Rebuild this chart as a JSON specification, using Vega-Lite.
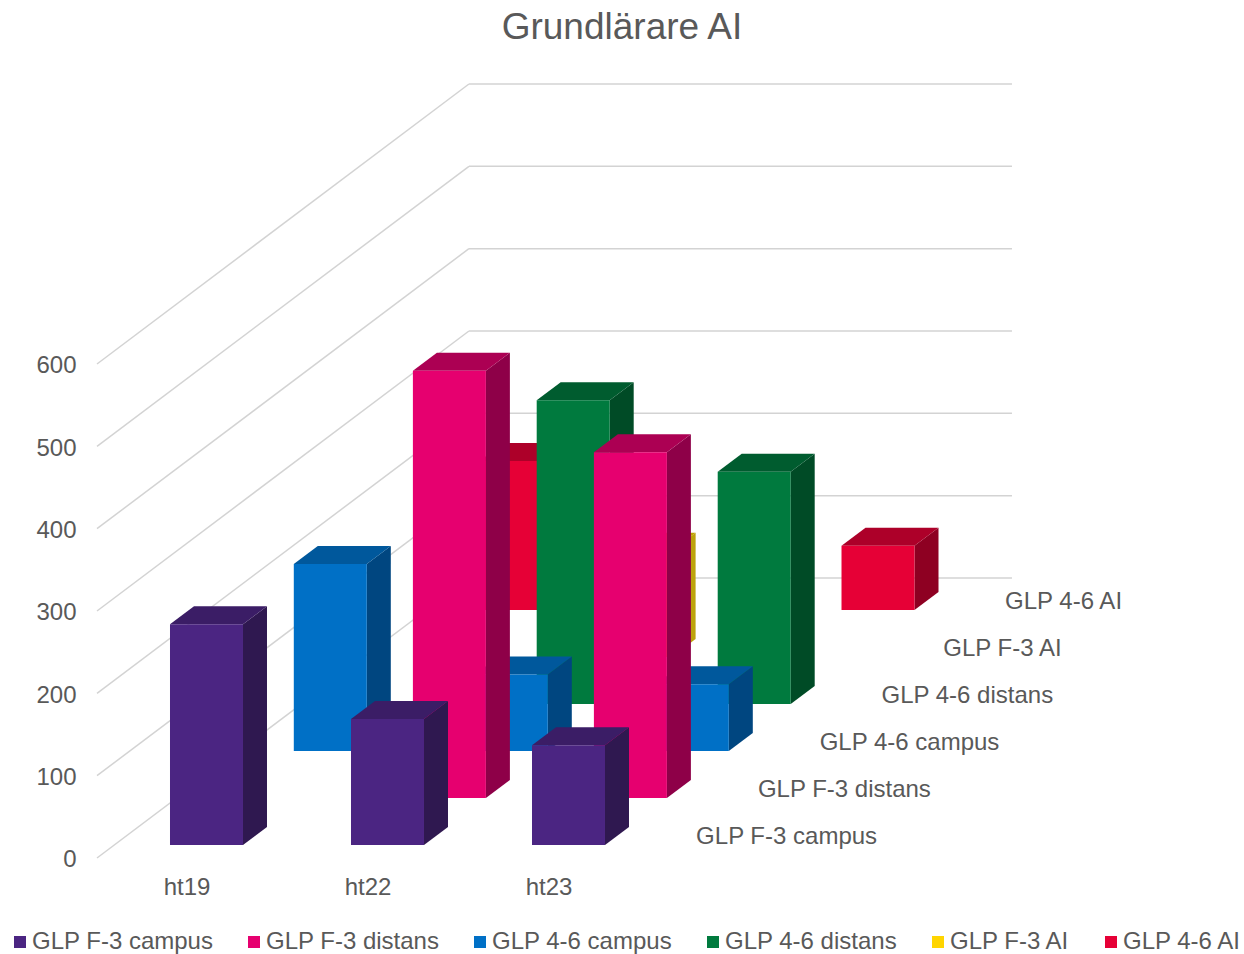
{
"$schema":"https://vega.github.io/schema/vega-lite/v6.json",
"width":1244,"height":954,"autosize":{"type":"none"},"padding":0,"background":"white",
"title":{"text":"Grundlärare AI","anchor":"middle","orient":"top","offset":-47,"fontSize":37,"font":"Liberation Sans","fontWeight":"normal","color":"#595959"},
"config":{"view":{"stroke":null},"font":"Liberation Sans"},
"layer":[
{"data":{"values":[{"tick":0},{"tick":100},{"tick":200},{"tick":300},{"tick":400},{"tick":500},{"tick":600}]},
 "mark":{"type":"rule","color":"#D3D3D3","strokeWidth":1.5},
 "transform":[{"calculate":"0","as":"x0"},{"calculate":"2.055","as":"x1"},{"calculate":"datum.tick+340.1","as":"yb"}],
 "encoding":{
  "x":{"field":"x0","type":"quantitative","title":null,"scale":{"domain":[-0.5359,6.337],"nice":false,"zero":false},
    "axis":{"orient":"bottom","values":[0.5,1.5,2.5],"labelExpr":"datum.value==0.5?'ht19':datum.value==1.5?'ht22':'ht23'","domain":false,"ticks":false,"grid":false,"offset":-79,"labelPadding":0,"labelOffset":-1,"labelFontSize":24,"labelColor":"#595959","labelFont":"Liberation Sans","labelBaseline":"top"}},
  "x2":{"field":"x1"},
  "y":{"field":"tick","type":"quantitative","title":null,"scale":{"domain":[-116.6,1042.1],"nice":false,"zero":false},
    "axis":{"orient":"left","values":[0,100,200,300,400,500,600],"domain":false,"ticks":false,"grid":false,"offset":-76,"labelPadding":0,"labelOffset":2,"labelFontSize":24,"labelColor":"#595959","labelFont":"Liberation Sans"}},
  "y2":{"field":"yb"}
 }},
{"data":{"values":[{"tick":0},{"tick":100},{"tick":200},{"tick":300},{"tick":400},{"tick":500},{"tick":600}]},
 "mark":{"type":"rule","color":"#D3D3D3","strokeWidth":1.5},
 "transform":[{"calculate":"2.055","as":"x0"},{"calculate":"5.055","as":"x1"},{"calculate":"datum.tick+340.1","as":"yb"}],
 "encoding":{
  "x":{"field":"x0","type":"quantitative"},"x2":{"field":"x1"},
  "y":{"field":"yb","type":"quantitative"}
 }},
{"data":{"values":[
 {"series":"GLP 4-6 AI","period":"ht19","value":181},
 {"series":"GLP 4-6 AI","period":"ht23","value":78},
 {"series":"GLP F-3 AI","period":"ht22","value":129},
 {"series":"GLP 4-6 distans","period":"ht22","value":369},
 {"series":"GLP 4-6 distans","period":"ht23","value":282},
 {"series":"GLP 4-6 campus","period":"ht19","value":227},
 {"series":"GLP 4-6 campus","period":"ht22","value":93},
 {"series":"GLP 4-6 campus","period":"ht23","value":81},
 {"series":"GLP F-3 distans","period":"ht22","value":519},
 {"series":"GLP F-3 distans","period":"ht23","value":420},
 {"series":"GLP F-3 campus","period":"ht19","value":268},
 {"series":"GLP F-3 campus","period":"ht22","value":153},
 {"series":"GLP F-3 campus","period":"ht23","value":121}
 ]},
 "transform":[
  {"calculate":"indexof(['GLP F-3 campus','GLP F-3 distans','GLP 4-6 campus','GLP 4-6 distans','GLP F-3 AI','GLP 4-6 AI'],datum.series)","as":"s"},
  {"calculate":"indexof(['ht19','ht22','ht23'],datum.period)","as":"c"},
  {"calculate":"datum.c+0.4033+datum.s*0.342","as":"xl"},
  {"calculate":"datum.xl+0.4033","as":"xr"},
  {"calculate":"15.8+datum.s*57.09","as":"yb"},
  {"calculate":"datum.yb+datum.value","as":"yt"},
  {"calculate":"[{face:'side',x:datum.xr,y:datum.yt,y2:datum.yb},{face:'side',x:datum.xr+0.1326,y:datum.yt+21.86,y2:datum.yb+21.86},{face:'top',x:datum.xl,y:datum.yt,y2:datum.yt},{face:'top',x:datum.xl+0.1326,y:datum.yt+21.86,y2:datum.yt},{face:'top',x:datum.xr,y:datum.yt+21.86,y2:datum.yt},{face:'top',x:datum.xr+0.1326,y:datum.yt+21.86,y2:datum.yt+21.86},{face:'front',x:datum.xl,y:datum.yt,y2:datum.yb},{face:'front',x:datum.xr,y:datum.yt,y2:datum.yb}]","as":"v"},
  {"flatten":["v"]},
  {"calculate":"datum.v.x","as":"vx"},
  {"calculate":"datum.v.y","as":"vy"},
  {"calculate":"datum.v.y2","as":"vy2"},
  {"calculate":"datum.v.face=='front'?datum.series:datum.series+' '+datum.v.face","as":"shade"},
  {"calculate":"datum.series+datum.period+datum.v.face","as":"faceId"}
 ],
 "mark":{"type":"area","interpolate":"linear","line":false,"opacity":1},
 "encoding":{
  "x":{"field":"vx","type":"quantitative"},
  "y":{"field":"vy","type":"quantitative","stack":null},
  "y2":{"field":"vy2"},
  "detail":{"field":"faceId"},
  "color":{"field":"shade","type":"nominal","sort":null,
   "scale":{"domain":["GLP F-3 campus","GLP F-3 distans","GLP 4-6 campus","GLP 4-6 distans","GLP F-3 AI","GLP 4-6 AI",
     "GLP F-3 campus top","GLP F-3 distans top","GLP 4-6 campus top","GLP 4-6 distans top","GLP F-3 AI top","GLP 4-6 AI top",
     "GLP F-3 campus side","GLP F-3 distans side","GLP 4-6 campus side","GLP 4-6 distans side","GLP F-3 AI side","GLP 4-6 AI side"],
    "range":["#4B2582","#E6006F","#0070C6","#007A3E","#FFD500","#E60036",
     "#3B1D66","#AC0053","#00589C","#005C2F","#BFA000","#AD0029",
     "#2F1850","#8E0048","#004680","#004B26","#BDA30C","#8E0022"]},
   "legend":{"title":null,"orient":"none","legendX":8,"legendY":930,"direction":"horizontal","columns":6,"gridAlign":"each","columnPadding":28,
     "values":["GLP F-3 campus","GLP F-3 distans","GLP 4-6 campus","GLP 4-6 distans","GLP F-3 AI","GLP 4-6 AI"],
     "symbolType":"square","symbolSize":144,"symbolStrokeWidth":0,"labelFontSize":24,"labelColor":"#595959","labelFont":"Liberation Sans","labelOffset":0,"labelLimit":300}}
 }},
{"data":{"values":[{"series":"GLP F-3 campus"},{"series":"GLP F-3 distans"},{"series":"GLP 4-6 campus"},{"series":"GLP 4-6 distans"},{"series":"GLP F-3 AI"},{"series":"GLP 4-6 AI"}]},
 "transform":[
  {"calculate":"indexof(['GLP F-3 campus','GLP F-3 distans','GLP 4-6 campus','GLP 4-6 distans','GLP F-3 AI','GLP 4-6 AI'],datum.series)","as":"s"},
  {"calculate":"3.31+datum.s*0.3414","as":"lx"},
  {"calculate":"25.6+datum.s*57.09","as":"ly"}
 ],
 "mark":{"type":"text","align":"left","baseline":"middle","fontSize":24,"font":"Liberation Sans","color":"#595959"},
 "encoding":{
  "x":{"field":"lx","type":"quantitative"},
  "y":{"field":"ly","type":"quantitative"},
  "text":{"field":"series"}
 }}
]
}
